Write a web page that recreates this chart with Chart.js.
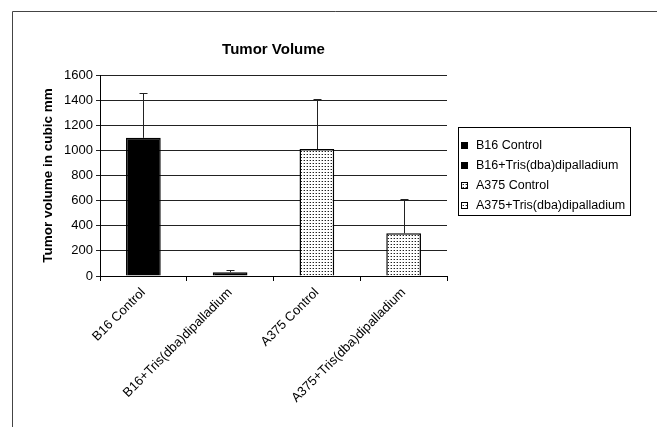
<!DOCTYPE html>
<html>
<head>
<meta charset="utf-8">
<script src="https://cdn.jsdelivr.net/npm/chart.js@4/dist/chart.umd.min.js"></script>
<style>
  html, body { margin: 0; padding: 0; background: #fff; }
  #wrap { width: 657px; height: 427px; }
</style>
</head>
<body>
<div id="wrap"><canvas id="tumorChart" width="657" height="427"></canvas></div>
<script>
const categories = ['B16 Control', 'B16+Tris(dba)dipalladium', 'A375 Control', 'A375+Tris(dba)dipalladium'];
const volumes = [1100, 30, 1010, 340];
const errorsUp = [355, 20, 395, 270];
const yTicks = [0, 200, 400, 600, 800, 1000, 1200, 1400, 1600];
const chartTitle = 'Tumor Volume';
const yTitle = 'Tumor volume in cubic mm';

const FONT = '"Liberation Sans", Arial, sans-serif';

// dotted fill like the old excel pattern
function dotPattern() {
    const c = document.createElement('canvas');
    c.width = 3; c.height = 3;
    const g = c.getContext('2d');
    g.fillStyle = '#fff';
    g.fillRect(0, 0, 3, 3);
    g.fillStyle = '#222';
    g.fillRect(1, 1, 1, 1);
    g.fillStyle = '#aaa';
    g.fillRect(0, 1, 1, 1);
    return g.createPattern(c, 'repeat');
}

const ctx = document.getElementById('tumorChart').getContext('2d');
const dots = dotPattern();
const fills = ['#000', '#000', dots, dots];

const errorBars = {
    id: 'errorBars',
    afterDatasetsDraw(chart) {
        const meta = chart.getDatasetMeta(0);
        const y = chart.scales.y;
        const c = chart.ctx;
        c.save();
        c.strokeStyle = '#222';
        c.lineWidth = 1;
        meta.data.forEach((bar, i) => {
            const x = Math.round(bar.x) + 0.5;
            const top = Math.round(y.getPixelForValue(volumes[i] + errorsUp[i])) + 0.5;
            c.beginPath();
            c.moveTo(x, bar.y);
            c.lineTo(x, top);
            c.moveTo(x - 4, top);
            c.lineTo(x + 4, top);
            c.stroke();
        });
        c.restore();
    }
};

const decor = {
    id: 'decor',
    afterDraw(chart) {
        const c = chart.ctx;
        const area = chart.chartArea;
        c.save();
        // outer frame (cut at right and bottom like the original)
        c.strokeStyle = '#444';
        c.lineWidth = 1;
        c.beginPath();
        c.moveTo(12.5, 440);
        c.lineTo(12.5, 11.5);
        c.lineTo(660, 11.5);
        c.stroke();

        // title, centred over the plot
        c.fillStyle = '#000';
        c.font = 'bold 15px ' + FONT;
        c.textAlign = 'center';
        c.textBaseline = 'middle';
        c.fillText(chartTitle, (area.left + area.right) / 2, 50);

        // legend
        c.strokeStyle = '#000';
        c.strokeRect(458.5, 127.5, 172, 88);
        c.font = '12.5px ' + FONT;
        c.textAlign = 'left';
        categories.forEach((name, i) => {
            const cy = 146 + i * 20;
            c.fillStyle = fills[i];
            c.fillRect(461, cy - 4, 7, 7);
            if (i > 1) {
                c.strokeStyle = '#000';
                c.strokeRect(461.5, cy - 3.5, 6, 6);
            }
            c.fillStyle = '#000';
            c.fillText(name, 476, cy);
        });
        c.restore();
    }
};

new Chart(ctx, {
    type: 'bar',
    data: {
        labels: categories,
        datasets: [{
            data: volumes,
            backgroundColor: fills,
            borderColor: '#000',
            borderWidth: 1.5,
            borderSkipped: 'bottom',
            categoryPercentage: 1,
            barPercentage: 0.4
        }]
    },
    options: {
        responsive: false,
        animation: false,
        layout: { padding: { left: 30, top: 75, right: 210, bottom: 0 } },
        plugins: {
            legend: { display: false },
            title: { display: false },
            tooltip: { enabled: false }
        },
        scales: {
            x: {
                afterFit: (s) => { s.height = 151; },
                grid: { offset: true, drawOnChartArea: false, tickLength: 5, color: '#000' },
                border: { color: '#000', width: 1 },
                ticks: {
                    minRotation: 45, maxRotation: 45, padding: 4,
                    color: '#000',
                    font: { family: FONT, size: 13 }
                }
            },
            y: {
                min: 0,
                max: yTicks[yTicks.length - 1],
                afterFit: (s) => { s.width = 70; },
                afterBuildTicks: (s) => { s.ticks = yTicks.map(v => ({ value: v })); },
                grid: { color: '#222', tickLength: 4 },
                border: { color: '#000', width: 1 },
                ticks: {
                    padding: 3,
                    color: '#000',
                    callback: (v) => String(v),
                    font: { family: FONT, size: 13 }
                },
                title: {
                    display: true,
                    text: yTitle,
                    color: '#000',
                    padding: { top: 10, bottom: 0 },
                    font: { family: FONT, size: 13.5, weight: 'bold' }
                }
            }
        }
    },
    plugins: [errorBars, decor]
});
</script>
</body>
</html>
